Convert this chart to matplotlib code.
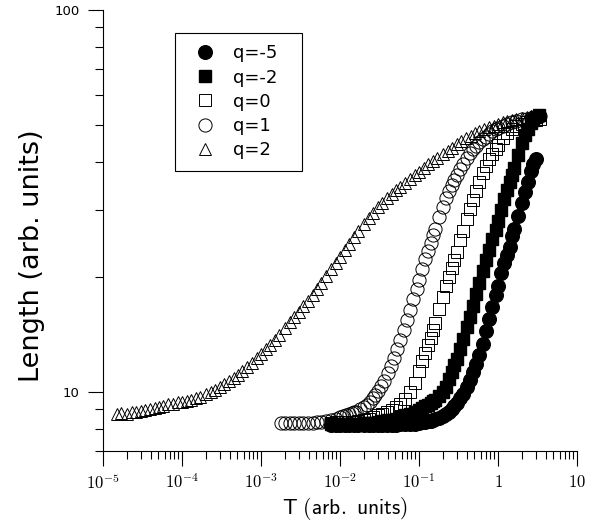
import numpy as np
import matplotlib.pyplot as plt
from matplotlib.ticker import FixedLocator, FixedFormatter, NullFormatter, LogLocator

plt.rcParams['mathtext.fontset'] = 'cm'
plt.rcParams['font.family'] = ['DejaVu Sans']

# q = 2  (triangulos abiertos)
T_q2 = [1.5e-5, 1.7e-5, 2.0e-5, 2.3e-5, 2.6e-5, 3.0e-5, 3.4e-5, 3.9e-5, 4.5e-5, 5.1e-5, 5.8e-5, 6.7e-5, 7.7e-5, 8.8e-5,
        1.0e-4, 1.15e-4, 1.3e-4, 1.5e-4, 1.7e-4, 2.0e-4, 2.3e-4, 2.6e-4, 3.0e-4, 3.4e-4, 3.9e-4, 4.5e-4, 5.1e-4, 5.8e-4, 6.7e-4, 7.7e-4, 8.8e-4,
        1.0e-3, 1.15e-3, 1.3e-3, 1.5e-3, 1.7e-3, 2.0e-3, 2.3e-3, 2.6e-3, 3.0e-3, 3.4e-3, 3.9e-3, 4.5e-3, 5.1e-3, 5.8e-3, 6.7e-3, 7.7e-3, 8.8e-3,
        1.0e-2, 1.15e-2, 1.3e-2, 1.5e-2, 1.7e-2, 2.0e-2, 2.3e-2, 2.6e-2, 3.0e-2, 3.4e-2, 3.9e-2, 4.5e-2, 5.1e-2, 5.8e-2, 6.7e-2, 7.7e-2, 8.8e-2,
        0.10, 0.115, 0.13, 0.15, 0.17, 0.20, 0.23, 0.26, 0.30, 0.34, 0.39, 0.45, 0.51, 0.58, 0.67, 0.77, 0.88,
        1.0, 1.15, 1.3, 1.5, 1.7, 2.0, 2.3, 2.6, 3.0, 3.4]
L_q2 = [8.76, 8.82, 8.74, 8.83, 8.86, 8.93, 8.95, 9.04, 9.06, 9.15, 9.17, 9.27, 9.28, 9.38,
        9.39, 9.44, 9.51, 9.62, 9.72, 9.85, 9.98, 10.13, 10.31, 10.47, 10.66, 10.88, 11.08, 11.32, 11.63, 11.93, 12.24,
        12.54, 12.91, 13.24, 13.68, 14.09, 14.67, 15.19, 15.66, 16.22, 16.74, 17.32, 17.98, 18.60, 19.27, 20.10, 20.92, 21.74,
        22.58, 23.50, 24.36, 25.39, 26.33, 27.54, 28.59, 29.43, 30.41, 31.25, 32.15, 33.04, 33.72, 34.44, 35.28, 36.10, 36.92,
        37.71, 38.59, 39.39, 40.25, 41.00, 41.97, 42.85, 43.61, 44.51, 45.29, 46.07, 46.88, 47.48, 48.12, 48.70, 49.26, 49.79,
        50.37, 50.82, 51.19, 51.66, 51.91, 52.20, 52.51, 52.77, 52.92, 53.02]

# q = 1  (circulos abiertos)
T_q1 = [1.8e-3, 2.0e-3, 2.3e-3, 2.6e-3, 3.0e-3, 3.4e-3, 3.9e-3, 4.5e-3, 5.1e-3, 5.8e-3, 6.7e-3, 7.7e-3, 8.8e-3,
        1.0e-2, 1.1e-2, 1.2e-2, 1.3e-2, 1.4e-2, 1.5e-2, 1.6e-2, 1.8e-2, 2.0e-2, 2.2e-2, 2.4e-2, 2.6e-2, 2.8e-2,
        3.0e-2, 3.3e-2, 3.6e-2, 4.0e-2, 4.4e-2, 4.8e-2, 5.3e-2, 5.8e-2, 6.4e-2, 7.0e-2, 7.7e-2, 8.5e-2, 9.3e-2,
        0.10, 0.11, 0.12, 0.13, 0.14, 0.15, 0.16, 0.18, 0.20, 0.22, 0.24, 0.26, 0.28,
        0.30, 0.33, 0.36, 0.40, 0.44, 0.48, 0.53, 0.58, 0.64, 0.70, 0.77, 0.85, 0.93,
        1.0, 1.15, 1.3, 1.5, 1.7, 2.0, 2.3, 2.6, 3.0, 3.4]
L_q1 = [8.29, 8.29, 8.29, 8.29, 8.29, 8.29, 8.30, 8.31, 8.33, 8.35, 8.39, 8.43, 8.47,
        8.58, 8.63, 8.69, 8.74, 8.79, 8.83, 8.88, 9.01, 9.13, 9.26, 9.43, 9.61, 9.83,
        10.05, 10.35, 10.69, 11.23, 11.72, 12.25, 12.98, 13.68, 14.52, 15.39, 16.33, 17.45, 18.60,
        19.57, 20.94, 22.21, 23.40, 24.55, 25.70, 26.72, 28.69, 30.54, 32.22, 33.57, 34.80, 35.89,
        36.89, 38.30, 39.58, 40.92, 42.12, 43.25, 44.15, 44.98, 45.91, 46.58, 47.33, 48.12, 48.73,
        49.20, 49.64, 50.18, 50.82, 51.29, 51.69, 51.94, 52.16, 52.45, 52.71]

# q = 0  (cuadrados abiertos)
T_q0 = [7.7e-3, 8.8e-3,
        1.0e-2, 1.15e-2, 1.3e-2, 1.5e-2, 1.7e-2, 2.0e-2, 2.3e-2, 2.6e-2, 3.0e-2, 3.4e-2, 3.9e-2, 4.5e-2, 5.1e-2, 5.8e-2, 6.7e-2, 7.7e-2, 8.8e-2,
        0.10, 0.11, 0.12, 0.13, 0.14, 0.15, 0.16, 0.18, 0.20, 0.22, 0.24, 0.26, 0.28,
        0.30, 0.33, 0.36, 0.40, 0.44, 0.48, 0.53, 0.58, 0.64, 0.70, 0.77, 0.85, 0.93,
        1.0, 1.15, 1.3, 1.5, 1.7, 2.0, 2.3, 2.6, 3.0, 3.4]
L_q0 = [8.31, 8.32,
        8.32, 8.33, 8.34, 8.36, 8.39, 8.43, 8.51, 8.58, 8.67, 8.76, 8.86, 8.96, 9.12, 9.30, 9.59, 9.98, 10.56,
        11.32, 12.02, 12.61, 13.26, 13.85, 14.50, 15.14, 16.49, 17.76, 18.94, 19.96, 21.14, 22.18,
        23.26, 24.94, 26.45, 28.38, 30.18, 31.77, 33.53, 35.34, 37.43, 39.05, 40.70, 42.04, 43.27,
        44.29, 46.23, 47.70, 48.93, 49.74, 50.37, 50.79, 51.21, 51.50, 51.75]

# q = -2  (cuadrados llenos)
T_qm2 = [7.7e-3, 8.8e-3,
         1.0e-2, 1.15e-2, 1.3e-2, 1.5e-2, 1.7e-2, 2.0e-2, 2.3e-2, 2.6e-2, 3.0e-2, 3.4e-2, 3.9e-2, 4.5e-2, 5.1e-2, 5.8e-2, 6.7e-2, 7.7e-2, 8.8e-2,
         0.10, 0.11, 0.12, 0.13, 0.14, 0.15, 0.16, 0.18, 0.20, 0.22, 0.24, 0.26, 0.28,
         0.30, 0.33, 0.36, 0.40, 0.44, 0.48, 0.53, 0.58, 0.64, 0.70, 0.77, 0.85, 0.93,
         1.0, 1.1, 1.2, 1.3, 1.4, 1.5, 1.6, 1.8, 2.0, 2.2, 2.4, 2.6, 2.8, 3.0, 3.3]
L_qm2 = [8.24, 8.24,
         8.25, 8.25, 8.26, 8.26, 8.26, 8.27, 8.29, 8.31, 8.32, 8.38, 8.42, 8.46, 8.51, 8.59, 8.67, 8.77, 8.86,
         8.95, 9.06, 9.16, 9.25, 9.34, 9.44, 9.53, 9.73, 9.96, 10.31, 10.79, 11.27, 11.74,
         12.22, 12.94, 13.74, 14.78, 15.73, 16.76, 18.02, 19.22, 20.68, 22.11, 23.54, 25.09, 26.60,
         27.97, 29.95, 31.90, 33.72, 35.37, 37.03, 38.63, 41.78, 44.96, 47.04, 48.76, 50.48, 51.66, 52.29, 53.18]

# q = -5  (circulos llenos)
T_qm5 = [7.7e-3, 8.8e-3,
         1.0e-2, 1.15e-2, 1.3e-2, 1.5e-2, 1.7e-2, 2.0e-2, 2.3e-2, 2.6e-2, 3.0e-2, 3.4e-2, 3.9e-2, 4.5e-2, 5.1e-2, 5.8e-2, 6.7e-2, 7.7e-2, 8.8e-2,
         0.10, 0.11, 0.12, 0.13, 0.14, 0.15, 0.16, 0.18, 0.20, 0.22, 0.24, 0.26, 0.28,
         0.30, 0.33, 0.36, 0.40, 0.44, 0.48, 0.53, 0.58, 0.64, 0.70, 0.77, 0.85, 0.93,
         1.0, 1.1, 1.2, 1.3, 1.4, 1.5, 1.6, 1.8, 2.0, 2.2, 2.4, 2.6, 2.8, 3.0]
L_qm5 = [8.19, 8.19,
         8.19, 8.19, 8.19, 8.19, 8.19, 8.19, 8.19, 8.19, 8.20, 8.20, 8.20, 8.21, 8.21, 8.22, 8.23, 8.25, 8.26,
         8.29, 8.32, 8.35, 8.38, 8.41, 8.44, 8.48, 8.54, 8.64, 8.73, 8.85, 9.00, 9.16,
         9.35, 9.63, 9.87, 10.32, 10.74, 11.25, 11.86, 12.49, 13.35, 14.39, 15.48, 16.67, 17.91,
         18.97, 20.46, 21.81, 22.84, 24.02, 25.58, 26.75, 28.93, 31.26, 33.37, 35.45, 37.96, 39.54, 40.64]

etiquetas = ['q=-5', 'q=-2', 'q=0', 'q=1', 'q=2']

xticks = [1e-5, 1e-4, 1e-3, 1e-2, 1e-1, 1, 10]
xtick_labels = [r'$10^{-5}$', r'$10^{-4}$', r'$10^{-3}$', r'$10^{-2}$', r'$10^{-1}$', r'$1$', r'$10$']
yticks = [10, 100]
ytick_labels = ['10', '100']

fig = plt.figure(figsize=(6.1, 5.25), dpi=100)
ax = fig.add_axes([0.169, 0.141, 0.777, 0.840])

abierto = dict(linestyle='none', markerfacecolor='none', markeredgecolor='black', markeredgewidth=0.7)
tri, = ax.plot(T_q2, L_q2, marker='^', markersize=8, **abierto)
circ, = ax.plot(T_q1, L_q1, marker='o', markersize=9.5, **abierto)
sq, = ax.plot(T_q0, L_q0, marker='s', markersize=8.5, **abierto)
fsq, = ax.plot(T_qm2, L_qm2, marker='s', markersize=8.5, linestyle='none', color='black')
fcirc, = ax.plot(T_qm5, L_qm5, marker='o', markersize=9.8, linestyle='none', color='black')

ax.set_xscale('log')
ax.set_yscale('log')
ax.set_xlim(1e-5, 10)
ax.set_ylim(7, 100)

ax.xaxis.set_major_locator(FixedLocator(xticks))
ax.xaxis.set_major_formatter(FixedFormatter(xtick_labels))
ax.xaxis.set_minor_locator(LogLocator(base=10, subs=np.arange(2, 10), numticks=20))
ax.xaxis.set_minor_formatter(NullFormatter())
ax.yaxis.set_major_locator(FixedLocator(yticks))
ax.yaxis.set_major_formatter(FixedFormatter(ytick_labels))
ax.yaxis.set_minor_locator(LogLocator(base=10, subs=np.arange(2, 10), numticks=20))
ax.yaxis.set_minor_formatter(NullFormatter())

ax.spines['top'].set_visible(False)
ax.spines['right'].set_visible(False)
for s in ['left', 'bottom']:
    ax.spines[s].set_linewidth(0.8)
ax.tick_params(which='major', direction='out', length=11, width=0.8)
ax.tick_params(which='minor', direction='out', length=5.5, width=0.8)
ax.tick_params(axis='x', labelsize=12, pad=5)
ax.tick_params(axis='y', labelsize=9.5, pad=6)

ax.set_ylabel('Length (arb. units)', fontsize=19.5)
ax.yaxis.set_label_coords(-0.122, 0.442)
ax.set_xlabel(r'$\mathsf{T\ (arb.\ units)}$', fontsize=15.5)
ax.xaxis.set_label_coords(0.51, -0.1)

leg = ax.legend([fcirc, fsq, sq, circ, tri], etiquetas, loc='upper left',
                bbox_to_anchor=(0.152, 0.5, 0.268, 0.448), mode='expand',
                fontsize=13, frameon=True, fancybox=False,
                edgecolor='black', framealpha=1, borderpad=0.64, labelspacing=0.34,
                handlelength=2.05, handletextpad=0.53, borderaxespad=0, numpoints=1)
leg.get_frame().set_linewidth(0.8)

fig.savefig('out.png', dpi=100)
